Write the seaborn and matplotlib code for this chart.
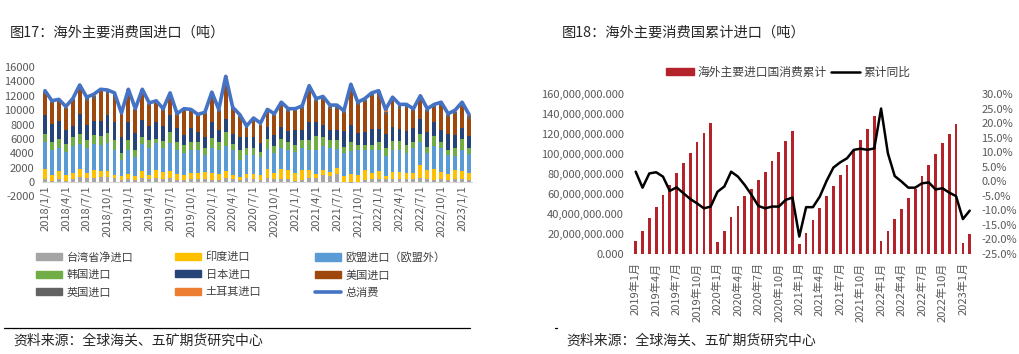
import numpy as np
import pandas as pd
import matplotlib
matplotlib.use("Agg")
import matplotlib.pyplot as plt
import seaborn as sns
from matplotlib.patches import Patch
from matplotlib.lines import Line2D
from matplotlib.ticker import FuncFormatter, MultipleLocator

# ================================================================
# DATA
# ================================================================
# fig 17: monthly imports by country (tons), 2018/1 .. 2023/2
months_left = [f"{y}/{m}/1" for y in range(2018, 2024) for m in range(1, 13)][:62]

taiwan = [400, 200, 400, 200, 400, 700, 500, 600, 700, 700,
          500, 300, 400, 300, 600, 400, 600, 400, 600, 300,
          300, 400, 400, 400, 300, 300, 600, 400, 300, 500,
          400, 300, 500, 400, 400, 400, 200, 300, 500, 600,
          1000, 800, 1100, 50, -100, 50, 300, 400, 400, 400,
          400, 400, 400, 400, 600, 400, 300, 400, 300, 400,
          400, 300]
india = [1400, 800, 1100, 800, 900, 1100, 800, 1100, 800, 800,
         500, 500, 700, 500, 900, 600, 1100, 1000, 1000, 800,
         700, 900, 900, 1000, 1000, 800, 900, 600, 400, 600,
         700, 700, 1300, 900, 1400, 1300, 1000, 1400, 1200, 500,
         700, 600, 800, 800, 1100, 950, 1400, 800, 1100, 400,
         1000, 1000, 800, 900, 1800, 1300, 1500, 1000, 800, 1300,
         1100, 900]
eu = [3800, 3500, 3300, 3200, 3700, 3500, 3500, 3600, 3600, 3900,
      3500, 2300, 3400, 2700, 3800, 3800, 3700, 3300, 3800, 3400,
      3100, 3100, 3200, 2300, 3500, 3400, 3500, 3400, 2300, 2600,
      2600, 2500, 2800, 2700, 3000, 2700, 3000, 3000, 2800, 3400,
      3300, 3400, 2700, 3200, 3200, 3500, 2700, 3300, 2900, 2800,
      3100, 3100, 2800, 3400, 3200, 2300, 3200, 3400, 2600, 1900,
      3000, 2700]
korea = [1100, 1100, 1200, 1100, 1300, 1400, 1000, 1200, 1300, 1400,
         1300, 900, 1300, 1000, 1000, 1000, 600, 1000, 1500, 1100,
         1000, 1100, 1000, 1100, 1300, 1100, 2000, 900, 1400, 1100,
         1100, 700, 1400, 1000, 1200, 1200, 900, 1100, 1300, 1900,
         1200, 1000, 1200, 800, 1300, 600, 700, 700, 1200, 1100,
         1200, 1200, 1100, 900, 1100, 900, 1400, 700, 800, 1100,
         1500, 800]
japan = [2600, 2500, 2500, 1900, 1500, 2700, 2100, 2000, 2100, 2500,
         2600, 2300, 2600, 2300, 2300, 2000, 2400, 2100, 2400, 1900,
         1400, 2000, 1500, 1400, 2300, 1600, 1700, 1400, 1800, 1400,
         1500, 1200, 1700, 1500, 1700, 1500, 2200, 1400, 2600, 2000,
         1700, 1500, 1500, 2200, 2300, 1700, 1800, 2200, 1800, 2000,
         1900, 1700, 2000, 1900, 2000, 2000, 2000, 1700, 2200, 1800,
         1500, 1700]
usa = [3000, 2900, 2800, 2900, 3600, 3500, 3400, 3000, 4200, 3000,
       3600, 3200, 4000, 3200, 3900, 2900, 2600, 2100, 2800, 1800,
       3500, 2400, 2200, 3200, 3700, 2600, 5300, 3300, 2800, 1300,
       2300, 2400, 2000, 2700, 3100, 2700, 2600, 3000, 4600, 2700,
       3500, 2900, 2900, 2500, 5400, 3900, 4200, 4500, 5000, 2800,
       3700, 2800, 3200, 2400, 2900, 2900, 1900, 3400, 2300, 3000,
       3100, 2400]
uk = [250, 200, 150, 250, 150, 350, 400, 500, 150, 400,
      300, 80, 350, 150, 300, 200, 200, 200, 200, 150,
      150, 150, 150, 200, 300, 200, 400, 250, 250, 150,
      150, 200, 250, 200, 200, 250, 200, 250, 250, 300,
      300, 300, 300, 200, 250, 250, 300, 300, 200, 300,
      300, 350, 300, 200, 250, 250, 300, 300, 300, 300,
      300, 400]
turkey = [150, 100, 50, 150, 50, 250, 100, 200, 50, 100,
          100, 20, 150, 50, 100, 100, 100, 100, 100, 50,
          50, 50, 50, 100, 100, 100, 300, 150, 150, 150,
          150, 200, 150, 100, 100, 150, 100, 150, 150, 200,
          200, 200, 200, 200, 150, 150, 200, 200, 100, 300,
          200, 250, 200, 100, 150, 150, 200, 200, 200, 200,
          200, 200]
total = [12700, 11300, 11500, 10500, 11600, 13500, 11800, 12200, 12900, 12800,
         12400, 9600, 12900, 10200, 12900, 11000, 11300, 10200, 12400, 9500,
         10200, 10100, 9400, 9700, 12500, 10100, 14700, 10400, 9400, 7800,
         8900, 8200, 10100, 9500, 11100, 10200, 10200, 10600, 13400, 11600,
         11900, 10700, 10700, 9900, 13600, 11100, 11600, 12400, 12700, 10100,
         11800, 10800, 10800, 10200, 12000, 10200, 10800, 11100, 9500, 10000,
         11100, 9400]

# fig 18: year-to-date consumption and its yoy, 2019/1 .. 2023/2
months_right = [f"{y}年{m}月" for y in range(2019, 2024) for m in range(1, 13)][:50]
cum_consumption = [13.0e6, 23.0e6, 36.0e6, 47.0e6, 59.0e6, 69.0e6, 81.0e6, 91.0e6, 101.0e6, 112.0e6, 121.0e6, 131.0e6,
                   12.0e6, 23.0e6, 37.0e6, 48.0e6, 58.0e6, 65.0e6, 74.0e6, 82.0e6, 93.0e6, 102.0e6, 113.0e6, 123.0e6,
                   10.0e6, 21.0e6, 34.0e6, 46.0e6, 58.0e6, 68.0e6, 79.0e6, 89.0e6, 104.0e6, 114.0e6, 125.0e6, 138.0e6,
                   13.0e6, 23.0e6, 35.0e6, 45.0e6, 56.0e6, 65.0e6, 78.0e6, 89.0e6, 100.0e6, 111.0e6, 120.0e6, 130.0e6,
                   11.0e6, 20.0e6]
cum_yoy = [3.3, -2.2, 2.7, 3.1, 1.6, -3.3, -2.1, -4.1, -6.1, -7.6, -9.3, -8.7,
           -3.6, -1.8, 3.3, 1.6, -1.3, -4.7, -8.5, -9.3, -8.7, -8.7, -6.4, -5.6,
           -19.0, -8.9, -8.9, -5.3, 0.1, 4.7, 6.5, 7.9, 10.8, 11.2, 10.8, 11.3,
           25.0, 9.6, 1.8, -0.1, -2.2, -2.2, -0.7, -0.4, -2.8, -2.4, -3.9, -5.1,
           -13.0, -10.1]

layers = [
    ("台湾省净进口", taiwan, "#A5A5A5"),
    ("印度进口", india, "#FFC000"),
    ("欧盟进口（欧盟外）", eu, "#5B9BD5"),
    ("韩国进口", korea, "#70AD47"),
    ("日本进口", japan, "#264478"),
    ("美国进口", usa, "#9E480E"),
    ("英国进口", uk, "#636363"),
    ("土耳其进口", turkey, "#ED7D31"),
]
LINE_BLUE = "#4472C4"
BAR_RED = "#B5232A"
TICK_GREY = "#595959"

# ================================================================
# FIGURE SETUP
# ================================================================
sns.set_theme(style="white")
plt.rcParams["font.family"] = ["Noto Sans CJK SC", "DejaVu Sans"]
plt.rcParams["axes.unicode_minus"] = False

W, H = 1019, 354
fig = plt.figure(figsize=(W / 100, H / 100), dpi=100)


def box(l, t, r, b):
    # pixel box -> figure fraction rect
    return [l / W, 1 - b / H, (r - l) / W, (b - t) / H]


# ================================================================
# LEFT: stacked monthly imports
# ================================================================
ax1 = fig.add_axes(box(41.5, 67, 472.5, 196.4))
n_left = len(months_left)

df_left = pd.DataFrame({name: vals for name, vals, _ in layers}, index=months_left)
stack_top = df_left.clip(lower=0).cumsum(axis=1)

# paint tallest cumulative first, lower layers on top of it
for name, _, col in reversed(layers):
    sns.barplot(x=months_left, y=stack_top[name].values, color=col, width=0.55,
                saturation=1, linewidth=0, ax=ax1)
sns.barplot(x=months_left, y=df_left["台湾省净进口"].clip(upper=0).values,
            color="#A5A5A5", width=0.55, saturation=1, linewidth=0, ax=ax1)

sns.lineplot(x=np.arange(n_left), y=total, color=LINE_BLUE, linewidth=2.6, ax=ax1)

ax1.set_xlim(-0.5, n_left - 0.5)
ax1.set_ylim(-2000, 16000)
ax1.yaxis.set_major_locator(MultipleLocator(2000))
ax1.set_xticks(range(0, n_left, 3))
ax1.set_xticklabels(months_left[::3], rotation=90)
ax1.tick_params(axis="both", length=0, labelsize=8, colors=TICK_GREY)
ax1.tick_params(axis="x", pad=-8)
ax1.tick_params(axis="y", pad=5)
ax1.set_xlabel("")
ax1.set_ylabel("")
for s in ax1.spines.values():
    s.set_visible(False)
ax1.axhline(0, color="#D9D9D9", linewidth=0.8, zorder=0)

# legend: three columns of three, placed like the excel layout
left_handles = [Patch(color=c, label=nm) for nm, _, c in layers]
left_handles.append(Line2D([], [], color=LINE_BLUE, linewidth=2.6, label="总消费"))
order_cols = [[0, 3, 6], [1, 4, 7], [2, 5, 8]]
for col_x, idxs in zip([36, 175, 315], order_cols):
    fig.legend(handles=[left_handles[i] for i in idxs], loc="upper left",
               bbox_to_anchor=(col_x / W, 1 - 252 / H), frameon=False,
               borderpad=0, borderaxespad=0, fontsize=8, handlelength=2.3,
               handleheight=0.6, handletextpad=0.45, labelspacing=0.66,
               labelcolor="#404040")

# ================================================================
# RIGHT: cumulative consumption + yoy
# ================================================================
ax2 = fig.add_axes(box(632.3, 94, 973.1, 254))
n_right = len(months_right)

sns.barplot(x=months_right, y=cum_consumption, color=BAR_RED, width=0.4,
            saturation=1, linewidth=0, ax=ax2)
ax2.set_ylim(0, 160e6)
ax2.yaxis.set_major_locator(MultipleLocator(20e6))
ax2.yaxis.set_major_formatter(FuncFormatter(lambda v, p: f"{v:,.3f}"))

ax3 = ax2.twinx()
sns.lineplot(x=np.arange(n_right), y=cum_yoy, color="black", linewidth=1.8, ax=ax3)
ax3.set_ylim(-25, 30)
ax3.yaxis.set_major_locator(MultipleLocator(5))
ax3.yaxis.set_major_formatter(FuncFormatter(lambda v, p: f"{v:.1f}%"))

ax2.set_xlim(-0.5, n_right - 0.5)
ax2.set_xticks(range(0, n_right, 3))
ax2.set_xticklabels(months_right[::3], rotation=90)
for a in (ax2, ax3):
    a.set_xlabel("")
    a.set_ylabel("")
    a.tick_params(axis="both", length=0, labelsize=8, colors=TICK_GREY, pad=6)
    for s in a.spines.values():
        s.set_visible(False)
ax2.tick_params(axis="x", pad=6)
ax2.axhline(0, color="#D9D9D9", linewidth=1.0, zorder=0)

fig.legend(handles=[Patch(color=BAR_RED, label="海外主要进口国消费累计"),
                    Line2D([], [], color="black", linewidth=1.8, label="累计同比")],
           loc="center", bbox_to_anchor=(788 / W, 1 - 72 / H), ncol=2, frameon=False,
           fontsize=8.5, handlelength=2.4, handleheight=0.6, handletextpad=0.3,
           columnspacing=0.4, labelcolor="#404040")

# ================================================================
# TITLES / SOURCES
# ================================================================
fig.text(10 / W, 1 - 33 / H, "图17：海外主要消费国进口（吨）", fontsize=10.3, va="center")
fig.text(562 / W, 1 - 33 / H, "图18：海外主要消费国累计进口（吨）", fontsize=10.3, va="center")
fig.add_artist(Line2D([4 / W, 470 / W], [1 - 328 / H] * 2, color="black", linewidth=0.9))
fig.add_artist(Line2D([555 / W, 557 / W], [1 - 328 / H] * 2, color="black", linewidth=0.9))
fig.text(13 / W, 1 - 341 / H, "资料来源：全球海关、五矿期货研究中心", fontsize=10, va="center")
fig.text(566 / W, 1 - 341 / H, "资料来源：全球海关、五矿期货研究中心", fontsize=10, va="center")

fig.savefig("out.png", dpi=100)
